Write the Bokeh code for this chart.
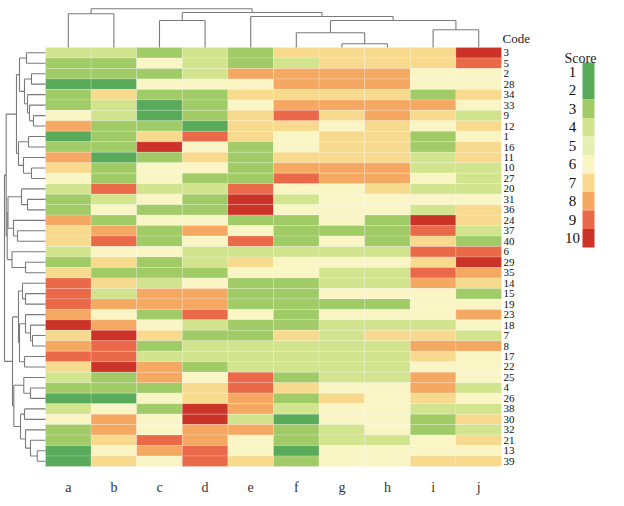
from bokeh.plotting import figure
from bokeh.models import Range1d
from bokeh.embed import file_html
from bokeh.resources import INLINE
from bokeh.core.properties import value

# ---------------- data ----------------
columns = list("abcdefghij")
codes = ["3", "5", "2", "28", "34", "33", "9", "12", "1", "16",
         "11", "10", "27", "20", "31", "36", "24", "37", "40", "6",
         "29", "35", "14", "15", "19", "23", "18", "7", "8", "17",
         "22", "25", "4", "26", "38", "30", "32", "21", "13", "39"]

a = [4, 3, 3, 2, 3, 3, 6, 8, 2, 3, 8, 7, 6, 4, 3, 3, 8, 7, 7, 4,
     3, 7, 9, 9, 9, 8, 10, 7, 8, 9, 7, 4, 3, 2, 4, 6, 3, 3, 2, 2]
b = [4, 3, 3, 2, 7, 4, 4, 3, 3, 3, 2, 3, 3, 9, 4, 6, 3, 8, 9, 6,
     7, 3, 7, 4, 8, 6, 8, 10, 9, 9, 10, 3, 3, 2, 6, 8, 8, 7, 6, 7]
c = [3, 6, 3, 6, 3, 2, 2, 3, 7, 10, 3, 6, 6, 4, 6, 3, 6, 3, 3, 6,
     3, 3, 4, 8, 8, 3, 6, 7, 3, 4, 8, 8, 3, 6, 3, 6, 6, 9, 8, 6]
d = [4, 4, 4, 6, 3, 3, 3, 2, 9, 6, 7, 6, 3, 4, 3, 3, 6, 8, 6, 4,
     4, 3, 6, 8, 8, 9, 4, 3, 4, 4, 3, 6, 7, 7, 10, 10, 8, 8, 9, 9]
e = [3, 3, 8, 6, 7, 6, 7, 7, 7, 3, 3, 3, 3, 9, 10, 10, 3, 6, 9, 4,
     7, 6, 3, 3, 3, 6, 3, 3, 4, 4, 4, 9, 9, 8, 8, 4, 8, 6, 6, 7]
f = [7, 4, 8, 8, 7, 8, 9, 7, 6, 6, 7, 8, 9, 6, 4, 6, 3, 3, 3, 4,
     6, 6, 3, 3, 3, 3, 3, 7, 4, 4, 4, 3, 7, 3, 4, 2, 3, 3, 2, 3]
g = [7, 7, 8, 8, 7, 8, 7, 6, 7, 7, 7, 8, 8, 6, 6, 6, 6, 3, 6, 4,
     6, 4, 4, 6, 3, 6, 4, 4, 4, 4, 4, 4, 6, 7, 6, 6, 4, 4, 6, 6]
h = [7, 7, 8, 8, 7, 8, 8, 7, 7, 7, 7, 8, 8, 7, 6, 6, 3, 3, 3, 4,
     6, 4, 4, 6, 3, 6, 4, 7, 4, 4, 4, 4, 6, 6, 6, 6, 6, 4, 6, 6]
i = [7, 7, 6, 6, 3, 8, 7, 6, 3, 3, 4, 4, 6, 4, 6, 4, 10, 9, 7, 9,
     7, 9, 8, 6, 6, 6, 4, 7, 8, 7, 6, 8, 8, 7, 4, 3, 3, 6, 6, 7]
j = [10, 9, 6, 6, 7, 6, 4, 7, 6, 7, 7, 4, 4, 4, 6, 7, 7, 4, 3, 9,
     10, 8, 7, 3, 6, 8, 6, 4, 8, 6, 6, 6, 4, 6, 4, 7, 4, 7, 6, 7]

score_levels = [1, 2, 3, 4, 5, 6, 7, 8, 9, 10]
palette = ["#5aaa5c", "#5aaa5c", "#a1cb67", "#d2e48e", "#e7f0b3",
           "#f9f5c5", "#f7da8d", "#f5a862", "#e96948", "#cc3328"]

# cluster trees: (merge height, left, right)
col_tree = (38.7, (33.7, "a", "b"),
            (35.0, (27.0, "c", "d"),
             (31.0, "e", (27.0, (14.7, "f", (3.7, "g", "h")), (17.7, "i", "j")))))

A7 = (26, (19, "3", "5"),
      (21, (14, "2", "28"), (18, "34", (16, "33", (12, "9", "12")))))
B4 = (27, (17, "1", "16"), (22, "11", (14, "10", "27")))
CDE = (38.3, (37.5, (24, "20", (18, "31", "36")), (32, "24", (28, "37", "40"))),
       (33.5, "6", (20, "29", "35")))
F = (27, (23, "14", (20, "15", "19")),
     (26, (20, "23", (15, "18", (13, "7", "8"))), (21, "17", "22")))
G = (31.7, (21.7, "25", (15, "4", "26")),
     (25, (21, "38", "30"), (20, "32", (15, "21", (8.3, "13", "39")))))
row_tree = (41, (39.3, (29, A7, B4), CDE), (33, F, G))

# ---------------- layout ----------------
W, H = 616, 498
HM_L, HM_R, HM_T, HM_B = 45, 501, 47, 466
cw = (HM_R - HM_L) / len(columns)
rh = (HM_B - HM_T) / len(codes)

p = figure(width=W, height=H, output_backend="svg", toolbar_location=None,
           x_range=Range1d(-HM_L / cw, (W - HM_L) / cw),
           y_range=Range1d((H - HM_T) / rh, -HM_T / rh),
           x_axis_location=None, y_axis_location=None, min_border=0)
p.grid.visible = False
p.outline_line_color = None
p.background_fill_color = "white"

p.extra_x_ranges = {"dx": Range1d(HM_L, HM_L - W), "px": Range1d(0, W)}
p.extra_y_ranges = {"dy": Range1d(HM_T - H, HM_T), "py": Range1d(H, 0)}

# ---------------- heatmap ----------------
series = [a, b, c, d, e, f, g, h, i, j]
xs, ys, cols = [], [], []
for ci, s in enumerate(series):
    for ri, v in enumerate(s):
        xs.append(ci + 0.5)
        ys.append(ri + 0.5)
        cols.append(palette[score_levels.index(v)])
p.rect(x=xs, y=ys, width=1, height=1, fill_color=cols,
       line_color="white", line_alpha=0.3, line_width=0.6)

# ---------------- dendrograms ----------------
def dendro(node, pos):
    if isinstance(node, str):
        return pos[node], 0.0, []
    hh, l, r = node
    pl, hl, sl = dendro(l, pos)
    pr, hr, sr = dendro(r, pos)
    segs = sl + sr + [(pl, hl, pl, hh), (pr, hr, pr, hh), (pl, hh, pr, hh)]
    return (pl + pr) / 2, hh, segs

_, _, rsegs = dendro(row_tree, {cd: k + 0.5 for k, cd in enumerate(codes)})
p.segment(x0=[s[1] for s in rsegs], y0=[s[0] for s in rsegs],
          x1=[s[3] for s in rsegs], y1=[s[2] for s in rsegs],
          x_range_name="dx", line_color="#7a7a7a", line_width=1.1)

_, _, csegs = dendro(col_tree, {cn: k + 0.5 for k, cn in enumerate(columns)})
p.segment(x0=[s[0] for s in csegs], y0=[s[1] for s in csegs],
          x1=[s[2] for s in csegs], y1=[s[3] for s in csegs],
          y_range_name="dy", line_color="#7a7a7a", line_width=1.1)

# ---------------- labels ----------------
serif = value("Liberation Serif")
p.text(x=[len(columns) + 2 / cw] * len(codes), y=[k + 0.5 for k in range(len(codes))],
       text=codes, text_font=serif, text_font_size="11px", text_color="#111111",
       text_align="left", text_baseline="middle")
p.text(x=[k + 0.5 for k in range(len(columns))], y=[(486.7 - HM_T) / rh] * len(columns),
       text=columns, text_font=serif, text_font_size="14px", text_color="#333333",
       text_align="center", text_baseline="middle")
p.text(x=[502], y=[37.5], text=["Code"], x_range_name="px", y_range_name="py",
       text_font=serif, text_font_size="13px", text_color="#222222",
       text_align="left", text_baseline="middle")

# ---------------- legend ----------------
LX0, LX1, LY0, step = 582, 594, 62, 18.5
p.rect(x=[(LX0 + LX1) / 2] * len(score_levels),
       y=[LY0 + step * (k + 0.5) for k in range(len(score_levels))],
       width=LX1 - LX0, height=step, fill_color=palette, line_color=None,
       x_range_name="px", y_range_name="py")
p.text(x=[572] * len(score_levels),
       y=[LY0 + step * (k + 0.5) for k in range(len(score_levels))],
       text=[str(v) for v in score_levels], x_range_name="px", y_range_name="py",
       text_font=serif, text_font_size="15px", text_color="#111111",
       text_align="center", text_baseline="middle")
p.text(x=[564], y=[58], text=["Score"], x_range_name="px", y_range_name="py",
       text_font=serif, text_font_size="14px", text_color="#222222",
       text_align="left", text_baseline="alphabetic")

open("out.html", "w").write(file_html(p, INLINE))
